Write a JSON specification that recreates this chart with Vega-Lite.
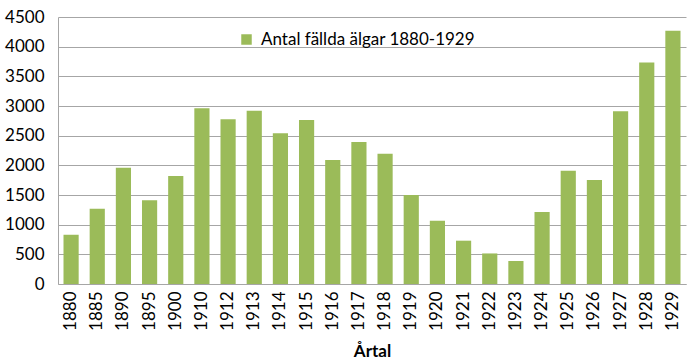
{
  "$schema": "https://vega.github.io/schema/vega-lite/v6.json",
  "width": 628,
  "height": 267,
  "autosize": {"type": "none"},
  "padding": {"left": 58, "top": 17, "right": 14, "bottom": 80},
  "background": "white",
  "config": {
    "font": "Lato",
    "view": {"stroke": null},
    "axis": {"labelFont": "Lato", "titleFont": "Lato"}
  },
  "data": {
    "values": [
      {"year": "1880", "count": 830, "series": "Antal fällda älgar 1880-1929"},
      {"year": "1885", "count": 1270, "series": "Antal fällda älgar 1880-1929"},
      {"year": "1890", "count": 1960, "series": "Antal fällda älgar 1880-1929"},
      {"year": "1895", "count": 1410, "series": "Antal fällda älgar 1880-1929"},
      {"year": "1900", "count": 1820, "series": "Antal fällda älgar 1880-1929"},
      {"year": "1910", "count": 2960, "series": "Antal fällda älgar 1880-1929"},
      {"year": "1912", "count": 2775, "series": "Antal fällda älgar 1880-1929"},
      {"year": "1913", "count": 2920, "series": "Antal fällda älgar 1880-1929"},
      {"year": "1914", "count": 2540, "series": "Antal fällda älgar 1880-1929"},
      {"year": "1915", "count": 2765, "series": "Antal fällda älgar 1880-1929"},
      {"year": "1916", "count": 2090, "series": "Antal fällda älgar 1880-1929"},
      {"year": "1917", "count": 2395, "series": "Antal fällda älgar 1880-1929"},
      {"year": "1918", "count": 2195, "series": "Antal fällda älgar 1880-1929"},
      {"year": "1919", "count": 1500, "series": "Antal fällda älgar 1880-1929"},
      {"year": "1920", "count": 1065, "series": "Antal fällda älgar 1880-1929"},
      {"year": "1921", "count": 730, "series": "Antal fällda älgar 1880-1929"},
      {"year": "1922", "count": 515, "series": "Antal fällda älgar 1880-1929"},
      {"year": "1923", "count": 388, "series": "Antal fällda älgar 1880-1929"},
      {"year": "1924", "count": 1213, "series": "Antal fällda älgar 1880-1929"},
      {"year": "1925", "count": 1910, "series": "Antal fällda älgar 1880-1929"},
      {"year": "1926", "count": 1752, "series": "Antal fällda älgar 1880-1929"},
      {"year": "1927", "count": 2910, "series": "Antal fällda älgar 1880-1929"},
      {"year": "1928", "count": 3735, "series": "Antal fällda älgar 1880-1929"},
      {"year": "1929", "count": 4270, "series": "Antal fällda älgar 1880-1929"}
    ]
  },
  "mark": {"type": "bar"},
  "encoding": {
    "x": {
      "field": "year",
      "type": "nominal",
      "sort": null,
      "scale": {"paddingInner": 0.42, "paddingOuter": 0.21},
      "axis": {
        "title": "Årtal",
        "titleFontSize": 17,
        "titleFontWeight": "bold",
        "titleColor": "#000000",
        "titlePadding": 13,
        "labelAngle": -90,
        "labelFontSize": 17,
        "labelColor": "#000000",
        "labelPadding": 7,
        "ticks": false,
        "domainColor": "#a6a6a6",
        "domainWidth": 1
      }
    },
    "y": {
      "field": "count",
      "type": "quantitative",
      "scale": {"domain": [0, 4500], "nice": false},
      "axis": {
        "title": null,
        "format": "d",
        "values": [0, 500, 1000, 1500, 2000, 2500, 3000, 3500, 4000, 4500],
        "labelFontSize": 17,
        "labelColor": "#000000",
        "labelPadding": 14,
        "ticks": false,
        "domainColor": "#a6a6a6",
        "grid": true,
        "gridColor": "#a6a6a6",
        "gridWidth": 1
      }
    },
    "color": {
      "field": "series",
      "type": "nominal",
      "scale": {"range": ["#9BBB59"]},
      "legend": {
        "title": null,
        "orient": "none",
        "legendX": 180,
        "legendY": 14,
        "symbolType": "square",
        "symbolSize": 110,
        "labelFontSize": 17,
        "labelLimit": 400,
        "labelColor": "#000000",
        "labelOffset": 6
      }
    }
  }
}
